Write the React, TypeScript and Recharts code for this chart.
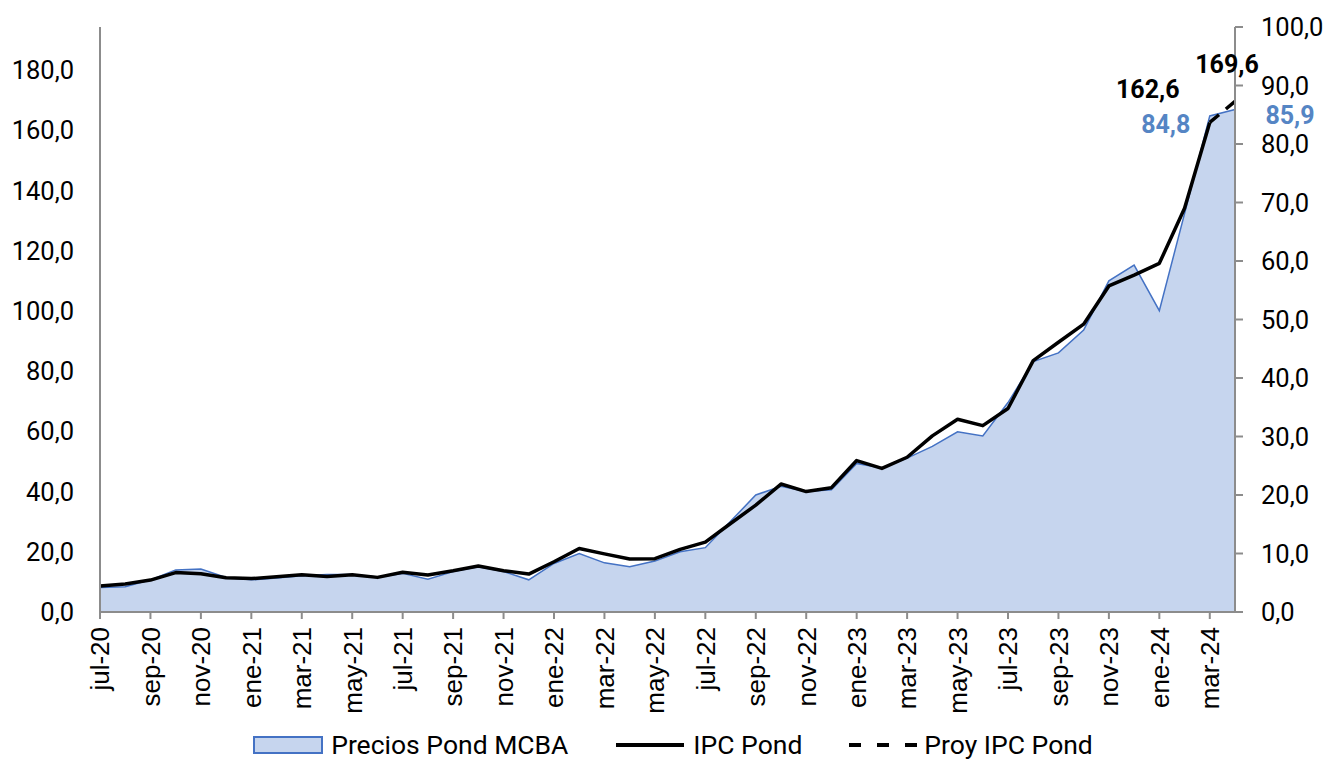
import React from "react";
import {
  ComposedChart,
  Area,
  Line,
  XAxis,
  YAxis,
  Legend,
  LabelList,
} from "recharts";

// ─── Data ───────────────────────────────────────────────────

const MONTHS = [
  "jul-20", "ago-20", "sep-20", "oct-20", "nov-20", "dic-20",
  "ene-21", "feb-21", "mar-21", "abr-21", "may-21", "jun-21",
  "jul-21", "ago-21", "sep-21", "oct-21", "nov-21", "dic-21",
  "ene-22", "feb-22", "mar-22", "abr-22", "may-22", "jun-22",
  "jul-22", "ago-22", "sep-22", "oct-22", "nov-22", "dic-22",
  "ene-23", "feb-23", "mar-23", "abr-23", "may-23", "jun-23",
  "jul-23", "ago-23", "sep-23", "oct-23", "nov-23", "dic-23",
  "ene-24", "feb-24", "mar-24", "abr-24",
];

// Precios Pond MCBA (right axis)
const PRECIOS_MCBA = [
  4.2, 4.3, 5.5, 7.2, 7.35, 5.9,
  5.5, 5.8, 6.2, 6.4, 6.4, 6.0,
  6.6, 5.6, 6.9, 7.75, 6.9, 5.5,
  8.3, 10.0, 8.4, 7.75, 8.7, 10.3,
  11.0, 15.5, 20.0, 21.5, 20.6, 20.9,
  25.4, 24.6, 26.3, 28.3, 30.8, 30.1,
  35.8, 42.8, 44.3, 48.2, 56.6, 59.3,
  51.5, 68.1, 84.8, 85.9,
];

// IPC Pond (left axis)
const IPC_POND = [
  8.6, 9.3, 10.6, 13.1, 12.7, 11.4,
  11.1, 11.7, 12.4, 11.8, 12.4, 11.5,
  13.2, 12.3, 13.7, 15.3, 13.7, 12.6,
  16.7, 21.1, 19.3, 17.6, 17.7, 20.8,
  23.2, 29.4, 35.5, 42.5, 40.0, 41.3,
  50.3, 47.7, 51.4, 58.5, 64.0, 61.9,
  67.6, 83.5, 89.6, 95.6, 108.3, 111.9,
  115.8, 134.1, 162.6, null,
];

// Proy IPC Pond (left axis, only the last stretch)
const PROY_IPC: (number | null)[] = MONTHS.map(() => null);
PROY_IPC[44] = 162.6;
PROY_IPC[45] = 169.6;

const LEFT_TICKS = [0, 20, 40, 60, 80, 100, 120, 140, 160, 180];
const RIGHT_TICKS = [0, 10, 20, 30, 40, 50, 60, 70, 80, 90, 100];

const data = MONTHS.map((m, i) => ({
  month: m,
  mcba: PRECIOS_MCBA[i],
  ipc: IPC_POND[i],
  proy: PROY_IPC[i],
}));

// ─── Styles ─────────────────────────────────────────────────

const FONT = "Roboto, 'Noto Sans', sans-serif";
const X_FONT = "'Liberation Sans', Arial, sans-serif";
const AXIS_GRAY = "#8c8c8c";
const AREA_FILL = "#c6d5ee";
const AREA_STROKE = "#4472c4";
const LABEL_BLUE = "#5585c4";

const fmt = (v: number) => v.toFixed(1).replace(".", ",");

const TICK_STYLE = { fill: "#000", fontSize: 25.5, fontFamily: FONT };

function MonthTick({ x, y, payload }: any) {
  return (
    <text
      x={x}
      y={y}
      transform={`rotate(-90, ${x}, ${y})`}
      textAnchor="end"
      dy="0.36em"
      fontSize={26}
      fontFamily={X_FONT}
      fill="#000"
    >
      {payload.value}
    </text>
  );
}

// labels placed beside the last two points, like in the report
const IPC_LABEL_OFFSETS: Record<number, [number, number]> = {
  44: [-62, -24],
  45: [-8, -28],
};
const MCBA_LABEL_OFFSETS: Record<number, [number, number]> = {
  44: [-44, 17],
  45: [55, 15],
};

function makeLabel(offsets: Record<number, [number, number]>, color: string) {
  return (props: any) => {
    const { x, y, value, index } = props;
    const off = offsets[index];
    if (!off || value == null) return null;
    return (
      <text
        x={x + off[0]}
        y={y + off[1]}
        textAnchor="middle"
        fontSize={25}
        fontWeight={700}
        fontFamily={FONT}
        fill={color}
      >
        {fmt(value)}
      </text>
    );
  };
}

function ChartLegend() {
  const item = { display: "flex", alignItems: "center" } as const;
  return (
    <div
      style={{
        display: "flex",
        justifyContent: "center",
        alignItems: "center",
        height: 32,
        paddingLeft: 18,
        position: "relative",
        top: 1,
        fontFamily: FONT,
        fontSize: 26.5,
        lineHeight: "30px",
        color: "#000",
      }}
    >
      <div style={item}>
        <svg width={70} height={18} style={{ marginRight: 8 }}>
          <rect x={1} y={1} width={68} height={16} fill={AREA_FILL} stroke={AREA_STROKE} strokeWidth={2} />
        </svg>
        <span>Precios Pond MCBA</span>
      </div>
      <div style={{ ...item, marginLeft: 48 }}>
        <svg width={68} height={18} style={{ marginRight: 9 }}>
          <line x1={0} y1={9} x2={68} y2={9} stroke="#000" strokeWidth={4} />
        </svg>
        <span>IPC Pond</span>
      </div>
      <div style={{ ...item, marginLeft: 47 }}>
        <svg width={70} height={18} style={{ marginRight: 5 }}>
          <line x1={0} y1={9} x2={70} y2={9} stroke="#000" strokeWidth={4} strokeDasharray="12 16" />
        </svg>
        <span>Proy IPC Pond</span>
      </div>
    </div>
  );
}

export default function App() {
  return (
    <div style={{ position: "absolute", left: 0, top: 0, width: 1328, height: 760, background: "#fff" }}>
      <ComposedChart
        width={1328}
        height={760}
        data={data}
        margin={{ top: 27, right: 0, bottom: 0, left: 0 }}
      >
        <XAxis
          dataKey="month"
          interval={1}
          tick={<MonthTick />}
          tickSize={7}
          tickMargin={8}
          height={116}
          axisLine={{ stroke: AXIS_GRAY, strokeWidth: 2 }}
          tickLine={{ stroke: AXIS_GRAY, strokeWidth: 2 }}
        />
        <YAxis
          yAxisId="left"
          orientation="left"
          width={100}
          domain={[0, 194.3]}
          ticks={LEFT_TICKS}
          tickFormatter={fmt}
          tick={TICK_STYLE}
          tickSize={0}
          tickMargin={26}
          tickLine={false}
          axisLine={{ stroke: AXIS_GRAY, strokeWidth: 2 }}
        />
        <YAxis
          yAxisId="right"
          orientation="right"
          width={93}
          domain={[0, 100]}
          ticks={RIGHT_TICKS}
          tickFormatter={fmt}
          tick={{ ...TICK_STYLE, textAnchor: "start" }}
          tickSize={8}
          tickMargin={18}
          tickLine={{ stroke: AXIS_GRAY, strokeWidth: 2 }}
          axisLine={{ stroke: AXIS_GRAY, strokeWidth: 2 }}
        />
        <Area
          yAxisId="right"
          type="linear"
          dataKey="mcba"
          name="Precios Pond MCBA"
          stroke={AREA_STROKE}
          strokeWidth={1.5}
          fill={AREA_FILL}
          fillOpacity={1}
          isAnimationActive={false}
        >
          <LabelList dataKey="mcba" content={makeLabel(MCBA_LABEL_OFFSETS, LABEL_BLUE)} />
        </Area>
        <Line
          yAxisId="left"
          type="linear"
          dataKey="ipc"
          name="IPC Pond"
          stroke="#000"
          strokeWidth={3.5}
          strokeLinejoin="round"
          dot={false}
          activeDot={false}
          isAnimationActive={false}
        />
        <Line
          yAxisId="left"
          type="linear"
          dataKey="proy"
          name="Proy IPC Pond"
          stroke="#000"
          strokeWidth={3.5}
          strokeDasharray="12 9"
          dot={false}
          activeDot={false}
          connectNulls={false}
          isAnimationActive={false}
        >
          <LabelList dataKey="proy" content={makeLabel(IPC_LABEL_OFFSETS, "#000")} />
        </Line>
        <Legend verticalAlign="bottom" content={() => <ChartLegend />} />
      </ComposedChart>
    </div>
  );
}
